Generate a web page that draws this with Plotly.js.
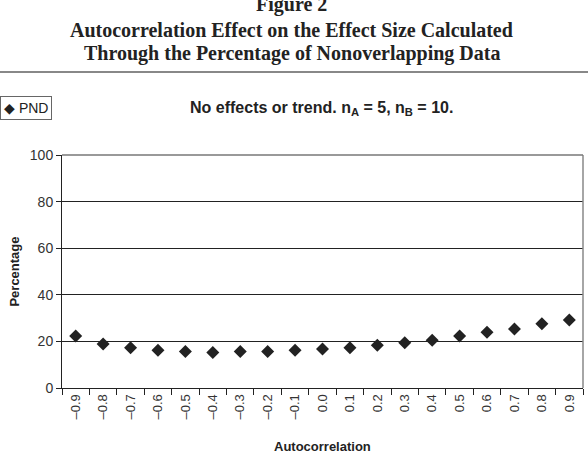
<!DOCTYPE html>
<html>
<head>
<meta charset="utf-8">
<script src="https://cdn.plot.ly/plotly-3.0.1.min.js"></script>
<style>html,body{margin:0;padding:0;background:#fff;}#chart{width:588px;height:470px;}</style>
</head>
<body>
<div id="chart"></div>
<script>
const categories = ["\u20130.9","\u20130.8","\u20130.7","\u20130.6","\u20130.5","\u20130.4","\u20130.3","\u20130.2","\u20130.1","0.0","0.1","0.2","0.3","0.4","0.5","0.6","0.7","0.8","0.9"];
const pndValues = [22.3,18.9,17.3,16.2,15.7,15.2,15.7,15.7,16.2,16.7,17.3,18.3,19.4,20.5,22.3,23.9,25.3,27.6,29.2];
const yTicks = [0,20,40,60,80,100];
const seriesName = 'PND';

const trace = {
  x: categories, y: pndValues, type: 'scatter', mode: 'markers', name: seriesName,
  marker: {symbol: 'diamond', size: 10, color: '#222'}
};

const serif = 'Liberation Serif, Times New Roman, serif';
const sans = 'Liberation Sans, Arial, sans-serif';

const layout = {
  width: 588, height: 470,
  margin: {l: 62, r: 5, t: 155, b: 82},
  paper_bgcolor: '#fff', plot_bgcolor: '#fff',
  showlegend: false,
  xaxis: {
    type: 'category', tickson: 'boundaries', ticks: 'outside', ticklen: 6, tickcolor: '#222',
    tickangle: -90, tickfont: {family: sans, size: 13, color: '#333'},
    showline: true, linecolor: '#222', linewidth: 1, showgrid: false, zeroline: false,
    range: [-0.5, 18.5], fixedrange: true
  },
  yaxis: {
    range: [0, 100], tickvals: yTicks, ticks: 'outside', ticklen: 5, tickcolor: '#222',
    tickfont: {family: sans, size: 14, color: '#333'},
    showline: true, linecolor: '#222', linewidth: 1, showgrid: true, gridcolor: '#222', gridwidth: 1,
    zeroline: false
  },
  shapes: [
    {type: 'line', xref: 'paper', yref: 'paper', x0: 1, x1: 1, y0: 0, y1: 1, line: {color: '#888', width: 1.5}},
    {type: 'line', xref: 'paper', yref: 'paper', x0: 0, x1: 1, y0: 1, y1: 1, line: {color: '#777', width: 1.5}},
    {type: 'line', xref: 'paper', yref: 'paper', x0: -0.2, x1: 1.1, y0: 1.356, y1: 1.356, line: {color: '#888', width: 2}}
  ],
  annotations: [
    {xref: 'paper', yref: 'paper', x: 0.441, y: 1.645, xanchor: 'center', yanchor: 'middle', showarrow: false,
      text: '<b>Figure 2</b>', font: {family: serif, size: 20, color: '#222'}},
    {xref: 'paper', yref: 'paper', x: 0.441, y: 1.536, xanchor: 'center', yanchor: 'middle', showarrow: false,
      text: '<b>Autocorrelation Effect on the Effect Size Calculated</b>', font: {family: serif, size: 20, color: '#222'}},
    {xref: 'paper', yref: 'paper', x: 0.441, y: 1.436, xanchor: 'center', yanchor: 'middle', showarrow: false,
      text: '<b>Through the Percentage of Nonoverlapping Data</b>', font: {family: serif, size: 20, color: '#222'}},
    {xref: 'paper', yref: 'paper', x: 0.499, y: 1.2017, xanchor: 'center', yanchor: 'middle', showarrow: false,
      text: '<b>No effects or trend. n<sub>A</sub> = 5, n<sub>B</sub> = 10.</b>', font: {family: sans, size: 16, color: '#222'}},
    {xref: 'paper', yref: 'paper', x: -0.119, y: 1.2017, xanchor: 'left', yanchor: 'middle', showarrow: false,
      text: '\u25C6 ' + seriesName, font: {family: sans, size: 14, color: '#222'},
      bordercolor: '#666', borderwidth: 1, borderpad: 3, bgcolor: '#fff'},
    {xref: 'paper', yref: 'paper', x: 0.5, y: -0.253, xanchor: 'center', yanchor: 'middle', showarrow: false,
      text: '<b>Autocorrelation</b>', font: {family: sans, size: 13, color: '#222'}},
    {xref: 'paper', yref: 'paper', x: -0.092, y: 0.5, xanchor: 'center', yanchor: 'middle', showarrow: false, textangle: -90,
      text: '<b>Percentage</b>', font: {family: sans, size: 13, color: '#222'}}
  ]
};

Plotly.newPlot('chart', [trace], layout, {staticPlot: true, displayModeBar: false});
</script>
</body>
</html>
